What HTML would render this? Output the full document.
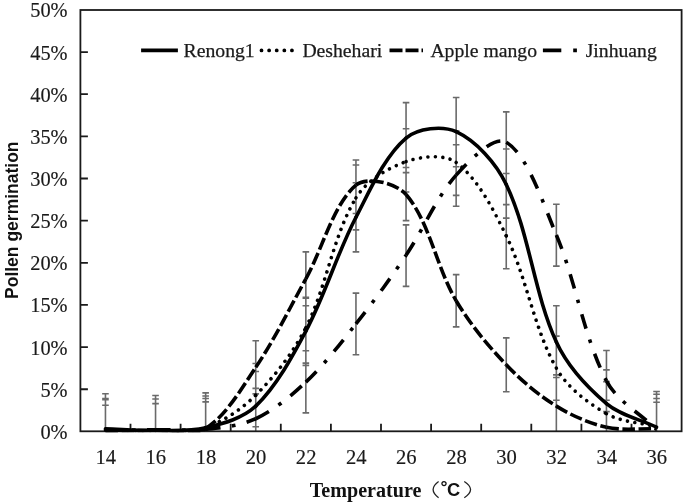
<!DOCTYPE html><html><head><meta charset="utf-8"><style>html,body{margin:0;padding:0;background:#fff;overflow:hidden;width:685px;height:504px;}svg{display:block;}</style></head><body>
<svg width="685" height="504" viewBox="0 0 685 504" style="will-change:transform">
<rect width="685" height="504" fill="#fff"/>
<path d="M105.45 393.80 V431.30 M102.15 393.80 H108.75 M105.45 398.52 V431.30 M102.15 398.52 H108.75 M105.45 399.79 V431.30 M102.15 399.79 H108.75 M105.45 405.27 V431.30 M102.15 405.27 H108.75 M155.55 395.57 V431.30 M152.25 395.57 H158.85 M155.55 398.94 V431.30 M152.25 398.94 H158.85 M155.55 398.94 V431.30 M152.25 398.94 H158.85 M155.55 403.58 V431.30 M152.25 403.58 H158.85 M205.65 392.87 V431.30 M202.35 392.87 H208.95 M205.65 395.99 V431.30 M202.35 395.99 H208.95 M205.65 398.52 V431.30 M202.35 398.52 H208.95 M205.65 401.89 V431.30 M202.35 401.89 H208.95 M255.75 340.78 V393.89 M252.45 340.78 H259.05 M252.45 393.89 H259.05 M255.75 363.54 V426.76 M252.45 363.54 H259.05 M252.45 426.76 H259.05 M255.75 371.55 V431.30 M252.45 371.55 H259.05 M255.75 388.41 V431.30 M252.45 388.41 H259.05 M305.85 251.84 V305.79 M302.55 251.84 H309.15 M302.55 305.79 H309.15 M305.85 297.36 V365.39 M302.55 297.36 H309.15 M302.55 365.39 H309.15 M305.85 298.21 V363.12 M302.55 298.21 H309.15 M302.55 363.12 H309.15 M305.85 350.81 V412.85 M302.55 350.81 H309.15 M302.55 412.85 H309.15 M355.95 159.95 V213.48 M352.65 159.95 H359.25 M352.65 213.48 H359.25 M355.95 165.01 V229.92 M352.65 165.01 H359.25 M352.65 229.92 H359.25 M355.95 182.71 V251.84 M352.65 182.71 H359.25 M352.65 251.84 H359.25 M355.95 293.15 V354.69 M352.65 293.15 H359.25 M352.65 354.69 H359.25 M406.05 102.63 V172.60 M402.75 102.63 H409.35 M402.75 172.60 H409.35 M406.05 128.76 V191.99 M402.75 128.76 H409.35 M402.75 191.99 H409.35 M406.05 167.54 V220.65 M402.75 167.54 H409.35 M402.75 220.65 H409.35 M406.05 224.86 V286.40 M402.75 224.86 H409.35 M402.75 286.40 H409.35 M456.15 97.57 V166.70 M452.85 97.57 H459.45 M452.85 166.70 H459.45 M456.15 130.87 V195.36 M452.85 130.87 H459.45 M452.85 195.36 H459.45 M456.15 144.78 V206.32 M452.85 144.78 H459.45 M452.85 206.32 H459.45 M456.15 274.60 V326.87 M452.85 274.60 H459.45 M452.85 326.87 H459.45 M506.25 111.90 V173.44 M502.95 111.90 H509.55 M502.95 173.44 H509.55 M506.25 149.00 V218.12 M502.95 149.00 H509.55 M502.95 218.12 H509.55 M506.25 204.63 V268.70 M502.95 204.63 H509.55 M502.95 268.70 H509.55 M506.25 337.83 V391.78 M502.95 337.83 H509.55 M502.95 391.78 H509.55 M556.35 204.21 V266.17 M553.05 204.21 H559.65 M553.05 266.17 H559.65 M556.35 305.79 V377.45 M553.05 305.79 H559.65 M553.05 377.45 H559.65 M556.35 336.14 V400.21 M553.05 336.14 H559.65 M553.05 400.21 H559.65 M556.35 374.92 V431.30 M553.05 374.92 H559.65 M606.45 350.47 V411.59 M603.15 350.47 H609.75 M603.15 411.59 H609.75 M606.45 369.86 V431.30 M603.15 369.86 H609.75 M606.45 381.66 V431.30 M603.15 381.66 H609.75 M606.45 400.21 V431.30 M603.15 400.21 H609.75 M656.55 391.53 V431.30 M653.25 391.53 H659.85 M656.55 394.31 V431.30 M653.25 394.31 H659.85 M656.55 398.52 V431.30 M653.25 398.52 H659.85 M656.55 402.32 V431.30 M653.25 402.32 H659.85" stroke="#6a6a6a" stroke-width="1.6" fill="none"/>
<path d="M80.40 389.25 H87.90 M80.40 347.10 H87.90 M80.40 304.95 H87.90 M80.40 262.80 H87.90 M80.40 220.65 H87.90 M80.40 178.50 H87.90 M80.40 136.35 H87.90 M80.40 94.20 H87.90 M80.40 52.05 H87.90 M130.50 431.30 V423.80 M180.60 431.30 V423.80 M230.70 431.30 V423.80 M280.80 431.30 V423.80 M330.90 431.30 V423.80 M381.00 431.30 V423.80 M431.10 431.30 V423.80 M481.20 431.30 V423.80 M531.30 431.30 V423.80 M581.40 431.30 V423.80 M631.50 431.30 V423.80" stroke="#1a1a1a" stroke-width="1.8" fill="none"/>
<rect x="80.40" y="10.00" width="601.20" height="421.30" stroke="#1a1a1a" stroke-width="1.8" fill="none"/>
<defs><clipPath id="pc"><rect x="80.40" y="10.00" width="601.20" height="422.20"/></clipPath></defs>
<g clip-path="url(#pc)">
<path d="M105.45 430.56 C122.15 430.28 138.85 429.92 155.55 429.71" stroke="#000" fill="none" stroke-width="3.6" stroke-dasharray="15 11.5 3.6 11.5"/>
<path d="M155.55 429.71 C172.25 429.50 189.13 431.10 205.65 429.29" stroke="#000" fill="none" stroke-width="3.6" stroke-dasharray="15 11.5 3.6 11.5"/>
<path d="M205.65 429.29 C222.53 427.45 240.66 425.87 255.75 418.75" stroke="#000" fill="none" stroke-width="3.6" stroke-dasharray="15 11.5 3.6 11.5"/>
<path d="M255.75 418.75 C274.06 410.13 290.92 396.22 305.85 382.08" stroke="#000" fill="none" stroke-width="3.6" stroke-dasharray="15 11.5 3.6 11.5"/>
<path d="M305.85 382.08 C324.32 364.61 340.10 343.98 355.95 323.92" stroke="#000" fill="none" stroke-width="3.6" stroke-dasharray="15 11.5 3.6 11.5"/>
<path d="M355.95 323.92 C373.50 301.69 390.23 278.71 406.05 255.21" stroke="#000" fill="none" stroke-width="3.6" stroke-dasharray="15 11.5 3.6 11.5"/>
<path d="M406.05 255.21 C423.63 229.11 435.71 198.17 456.15 175.13" stroke="#000" fill="none" stroke-width="3.6" stroke-dasharray="15 11.5 3.6 11.5"/>
<path d="M456.15 175.13 C469.11 160.51 494.14 135.02 506.25 142.25" stroke="#000" fill="none" stroke-width="3.6" stroke-dasharray="15 11.5 3.6 11.5"/>
<path d="M506.25 142.25 C527.54 154.97 542.79 202.69 556.35 234.98" stroke="#000" fill="none" stroke-width="3.6" stroke-dasharray="15 11.5 3.6 11.5"/>
<path d="M556.35 234.98 C576.19 282.22 583.45 336.21 606.45 380.82" stroke="#000" fill="none" stroke-width="3.6" stroke-dasharray="15 11.5 3.6 11.5"/>
<path d="M606.45 380.82 C616.85 400.98 639.85 413.13 656.55 429.29" stroke="#000" fill="none" stroke-width="3.6" stroke-dasharray="15 11.5 3.6 11.5"/>
<path d="M105.45 431.40 C122.15 430.98 138.85 430.63 155.55 430.14" stroke="#000" fill="none" stroke-width="3.6" stroke-dasharray="12.5 3.6"/>
<path d="M155.55 430.14 C172.25 429.64 192.69 436.57 205.65 428.45" stroke="#000" fill="none" stroke-width="3.6" stroke-dasharray="12.5 3.6"/>
<path d="M205.65 428.45 C226.09 415.64 241.15 389.14 255.75 367.33" stroke="#000" fill="none" stroke-width="3.6" stroke-dasharray="12.5 3.6"/>
<path d="M255.75 367.33 C274.55 339.26 289.51 308.52 305.85 278.82" stroke="#000" fill="none" stroke-width="3.6" stroke-dasharray="12.5 3.6"/>
<path d="M305.85 278.82 C322.91 247.82 333.38 204.23 355.95 185.24" stroke="#000" fill="none" stroke-width="3.6" stroke-dasharray="12.5 3.6"/>
<path d="M355.95 185.24 C366.78 176.13 395.94 182.87 406.05 194.52" stroke="#000" fill="none" stroke-width="3.6" stroke-dasharray="12.5 3.6"/>
<path d="M406.05 194.52 C429.34 221.37 436.42 267.20 456.15 300.74" stroke="#000" fill="none" stroke-width="3.6" stroke-dasharray="12.5 3.6"/>
<path d="M456.15 300.74 C469.82 323.96 487.68 345.27 506.25 364.80" stroke="#000" fill="none" stroke-width="3.6" stroke-dasharray="12.5 3.6"/>
<path d="M506.25 364.80 C521.08 380.40 538.17 394.79 556.35 406.11" stroke="#000" fill="none" stroke-width="3.6" stroke-dasharray="12.5 3.6"/>
<path d="M556.35 406.11 C571.57 415.58 589.07 423.24 606.45 427.19" stroke="#000" fill="none" stroke-width="3.6" stroke-dasharray="12.5 3.6"/>
<path d="M606.45 427.19 C622.47 430.83 639.85 428.31 656.55 428.87" stroke="#000" fill="none" stroke-width="3.6" stroke-dasharray="12.5 3.6"/>
<path d="M105.45 430.14 C122.15 430.28 138.86 430.98 155.55 430.56" stroke="#000" fill="none" stroke-width="3.6" stroke-linecap="round" stroke-dasharray="0.01 7.45"/>
<path d="M155.55 430.56 C172.26 430.14 190.39 433.00 205.65 427.61" stroke="#000" fill="none" stroke-width="3.6" stroke-linecap="round" stroke-dasharray="0.01 7.45"/>
<path d="M205.65 427.61 C223.79 421.19 241.88 408.98 255.75 395.15" stroke="#000" fill="none" stroke-width="3.6" stroke-linecap="round" stroke-dasharray="0.01 7.45"/>
<path d="M255.75 395.15 C275.28 375.68 293.28 352.46 305.85 327.71" stroke="#000" fill="none" stroke-width="3.6" stroke-linecap="round" stroke-dasharray="0.01 7.45"/>
<path d="M305.85 327.71 C326.68 286.71 332.83 236.21 355.95 197.89" stroke="#000" fill="none" stroke-width="3.6" stroke-linecap="round" stroke-dasharray="0.01 7.45"/>
<path d="M355.95 197.89 C366.23 180.86 387.60 168.16 406.05 161.64" stroke="#000" fill="none" stroke-width="3.6" stroke-linecap="round" stroke-dasharray="0.01 7.45"/>
<path d="M406.05 161.64 C421.00 156.36 444.10 153.56 456.15 162.48" stroke="#000" fill="none" stroke-width="3.6" stroke-linecap="round" stroke-dasharray="0.01 7.45"/>
<path d="M456.15 162.48 C477.50 178.29 493.37 209.39 506.25 235.82" stroke="#000" fill="none" stroke-width="3.6" stroke-linecap="round" stroke-dasharray="0.01 7.45"/>
<path d="M506.25 235.82 C526.77 277.95 533.76 328.07 556.35 368.17" stroke="#000" fill="none" stroke-width="3.6" stroke-linecap="round" stroke-dasharray="0.01 7.45"/>
<path d="M556.35 368.17 C567.16 387.36 587.53 402.63 606.45 413.70" stroke="#000" fill="none" stroke-width="3.6" stroke-linecap="round" stroke-dasharray="0.01 7.45"/>
<path d="M606.45 413.70 C620.93 422.16 639.85 422.41 656.55 426.76" stroke="#000" fill="none" stroke-width="3.6" stroke-linecap="round" stroke-dasharray="0.01 7.45"/>
<path d="M105.45 428.87 C122.15 429.43 138.86 430.73 155.55 430.56" stroke="#000" fill="none" stroke-width="3.6" stroke-linecap="round"/>
<path d="M155.55 430.56 C172.26 430.39 189.66 431.76 205.65 427.86" stroke="#000" fill="none" stroke-width="3.6" stroke-linecap="round"/>
<path d="M205.65 427.86 C223.06 423.61 243.15 418.27 255.75 406.11" stroke="#000" fill="none" stroke-width="3.6" stroke-linecap="round"/>
<path d="M255.75 406.11 C276.55 386.02 291.81 357.55 305.85 331.08" stroke="#000" fill="none" stroke-width="3.6" stroke-linecap="round"/>
<path d="M305.85 331.08 C325.21 294.61 336.91 253.97 355.95 217.28" stroke="#000" fill="none" stroke-width="3.6" stroke-linecap="round"/>
<path d="M355.95 217.28 C370.31 189.62 384.34 156.57 406.05 138.04" stroke="#000" fill="none" stroke-width="3.6" stroke-linecap="round"/>
<path d="M406.05 138.04 C417.74 128.05 442.46 125.38 456.15 131.71" stroke="#000" fill="none" stroke-width="3.6" stroke-linecap="round"/>
<path d="M456.15 131.71 C475.86 140.83 496.05 162.99 506.25 184.40" stroke="#000" fill="none" stroke-width="3.6" stroke-linecap="round"/>
<path d="M506.25 184.40 C529.45 233.10 533.78 292.67 556.35 342.04" stroke="#000" fill="none" stroke-width="3.6" stroke-linecap="round"/>
<path d="M556.35 342.04 C567.18 365.73 586.78 386.87 606.45 403.58" stroke="#000" fill="none" stroke-width="3.6" stroke-linecap="round"/>
<path d="M606.45 403.58 C620.18 415.25 639.85 419.32 656.55 427.19" stroke="#000" fill="none" stroke-width="3.6" stroke-linecap="round"/>
</g>
<text x="67.6" y="438.90" text-anchor="end" font-family="Liberation Serif, serif" font-size="20.4" fill="#1a1a1a" stroke="#1a1a1a" stroke-width="0.15">0%</text>
<text x="67.6" y="396.75" text-anchor="end" font-family="Liberation Serif, serif" font-size="20.4" fill="#1a1a1a" stroke="#1a1a1a" stroke-width="0.15">5%</text>
<text x="67.6" y="354.60" text-anchor="end" font-family="Liberation Serif, serif" font-size="20.4" fill="#1a1a1a" stroke="#1a1a1a" stroke-width="0.15">10%</text>
<text x="67.6" y="312.45" text-anchor="end" font-family="Liberation Serif, serif" font-size="20.4" fill="#1a1a1a" stroke="#1a1a1a" stroke-width="0.15">15%</text>
<text x="67.6" y="270.30" text-anchor="end" font-family="Liberation Serif, serif" font-size="20.4" fill="#1a1a1a" stroke="#1a1a1a" stroke-width="0.15">20%</text>
<text x="67.6" y="228.15" text-anchor="end" font-family="Liberation Serif, serif" font-size="20.4" fill="#1a1a1a" stroke="#1a1a1a" stroke-width="0.15">25%</text>
<text x="67.6" y="186.00" text-anchor="end" font-family="Liberation Serif, serif" font-size="20.4" fill="#1a1a1a" stroke="#1a1a1a" stroke-width="0.15">30%</text>
<text x="67.6" y="143.85" text-anchor="end" font-family="Liberation Serif, serif" font-size="20.4" fill="#1a1a1a" stroke="#1a1a1a" stroke-width="0.15">35%</text>
<text x="67.6" y="101.70" text-anchor="end" font-family="Liberation Serif, serif" font-size="20.4" fill="#1a1a1a" stroke="#1a1a1a" stroke-width="0.15">40%</text>
<text x="67.6" y="59.55" text-anchor="end" font-family="Liberation Serif, serif" font-size="20.4" fill="#1a1a1a" stroke="#1a1a1a" stroke-width="0.15">45%</text>
<text x="67.6" y="17.40" text-anchor="end" font-family="Liberation Serif, serif" font-size="20.4" fill="#1a1a1a" stroke="#1a1a1a" stroke-width="0.15">50%</text>
<text x="105.75" y="464.3" text-anchor="middle" font-family="Liberation Serif, serif" font-size="20.6" fill="#1a1a1a" stroke="#1a1a1a" stroke-width="0.15">14</text>
<text x="155.85" y="464.3" text-anchor="middle" font-family="Liberation Serif, serif" font-size="20.6" fill="#1a1a1a" stroke="#1a1a1a" stroke-width="0.15">16</text>
<text x="205.95" y="464.3" text-anchor="middle" font-family="Liberation Serif, serif" font-size="20.6" fill="#1a1a1a" stroke="#1a1a1a" stroke-width="0.15">18</text>
<text x="256.05" y="464.3" text-anchor="middle" font-family="Liberation Serif, serif" font-size="20.6" fill="#1a1a1a" stroke="#1a1a1a" stroke-width="0.15">20</text>
<text x="306.15" y="464.3" text-anchor="middle" font-family="Liberation Serif, serif" font-size="20.6" fill="#1a1a1a" stroke="#1a1a1a" stroke-width="0.15">22</text>
<text x="356.25" y="464.3" text-anchor="middle" font-family="Liberation Serif, serif" font-size="20.6" fill="#1a1a1a" stroke="#1a1a1a" stroke-width="0.15">24</text>
<text x="406.35" y="464.3" text-anchor="middle" font-family="Liberation Serif, serif" font-size="20.6" fill="#1a1a1a" stroke="#1a1a1a" stroke-width="0.15">26</text>
<text x="456.45" y="464.3" text-anchor="middle" font-family="Liberation Serif, serif" font-size="20.6" fill="#1a1a1a" stroke="#1a1a1a" stroke-width="0.15">28</text>
<text x="506.55" y="464.3" text-anchor="middle" font-family="Liberation Serif, serif" font-size="20.6" fill="#1a1a1a" stroke="#1a1a1a" stroke-width="0.15">30</text>
<text x="556.65" y="464.3" text-anchor="middle" font-family="Liberation Serif, serif" font-size="20.6" fill="#1a1a1a" stroke="#1a1a1a" stroke-width="0.15">32</text>
<text x="606.75" y="464.3" text-anchor="middle" font-family="Liberation Serif, serif" font-size="20.6" fill="#1a1a1a" stroke="#1a1a1a" stroke-width="0.15">34</text>
<text x="656.85" y="464.3" text-anchor="middle" font-family="Liberation Serif, serif" font-size="20.6" fill="#1a1a1a" stroke="#1a1a1a" stroke-width="0.15">36</text>
<text transform="translate(17.5,220.2) rotate(-90)" text-anchor="middle" font-family="Liberation Sans, sans-serif" font-weight="bold" font-size="17.5" fill="#111">Pollen germination</text>
<text x="309.8" y="496.7" font-family="Liberation Serif, serif" font-weight="bold" font-size="20.1" fill="#111">Temperature</text>
<path d="M438.6 481.5 Q427.6 489.6 438.6 497.7" stroke="#222" stroke-width="1.3" fill="none"/>
<path d="M464.3 481.5 Q476.8 489.6 464.3 497.7" stroke="#222" stroke-width="1.3" fill="none"/>
<text x="440.5" y="493.2" font-family="Liberation Sans, sans-serif" font-weight="bold" font-size="17.5" fill="#111">°</text>
<text x="446.9" y="496.0" font-family="Liberation Sans, sans-serif" font-weight="bold" font-size="18.3" fill="#111">C</text>
<path d="M141.1 50.4 H177.9" stroke="#000" stroke-width="3.8"/>
<path d="M261.5 50.4 H293" stroke="#000" stroke-width="3.8" stroke-linecap="round" stroke-dasharray="0.01 7.6"/>
<path d="M389.5 50.4 H423" stroke="#000" stroke-width="3.8" stroke-dasharray="13 3"/>
<path d="M542.9 50.4 H577" stroke="#000" stroke-width="3.8" stroke-dasharray="18.4 11.9 3.7 20"/>
<text x="183.6" y="57" font-family="Liberation Serif, serif" font-size="19.7" fill="#1a1a1a" stroke="#1a1a1a" stroke-width="0.25">Renong1</text>
<text x="302.4" y="57" font-family="Liberation Serif, serif" font-size="19.7" fill="#1a1a1a" stroke="#1a1a1a" stroke-width="0.25">Deshehari</text>
<text x="430.4" y="57" font-family="Liberation Serif, serif" font-size="19.7" fill="#1a1a1a" stroke="#1a1a1a" stroke-width="0.25">Apple mango</text>
<text x="585.7" y="57" font-family="Liberation Serif, serif" font-size="19.7" fill="#1a1a1a" stroke="#1a1a1a" stroke-width="0.25">Jinhuang</text>
</svg></body></html>
